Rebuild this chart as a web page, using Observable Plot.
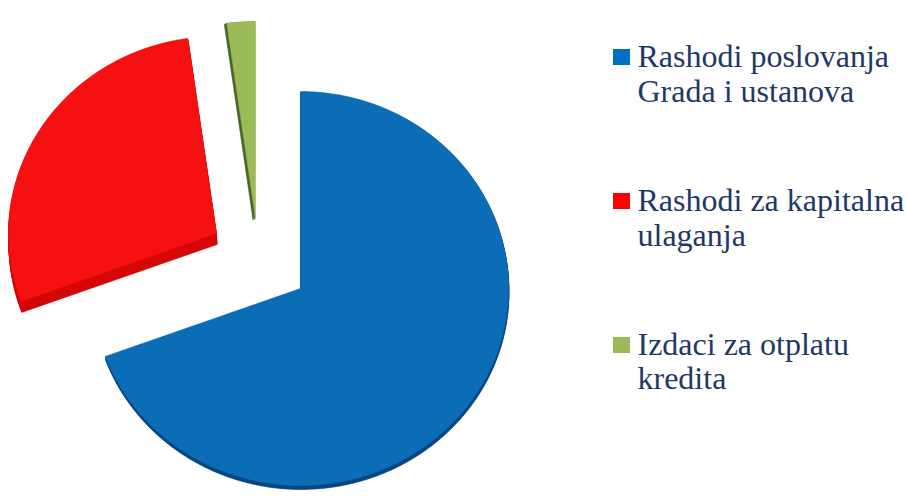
<!DOCTYPE html>
<html><head><meta charset="utf-8">
<script src="https://cdn.jsdelivr.net/npm/d3@7"></script>
<script src="https://cdn.jsdelivr.net/npm/@observablehq/plot@0.6"></script>
<style>
body{margin:0;background:#fff;}
#wrap{position:relative;width:906px;height:496px;overflow:hidden;}
.item{position:absolute;left:613px;width:293px;font-family:'Liberation Serif';font-size:32px;line-height:34.5px;color:#1f3864;}
.sw{position:absolute;left:0;top:10px;width:16.5px;height:16px;}
.lbl{position:absolute;left:24.5px;top:0;white-space:nowrap;}
</style></head><body><div id="wrap"></div>
<script>
// ---- data ----
const categories = ["Rashodi poslovanja Grada i ustanova", "Rashodi za kapitalna ulaganja", "Izdaci za otplatu kredita"];
const legendLines = [["Rashodi poslovanja", "Grada i ustanova"], ["Rashodi za kapitalna", "ulaganja"], ["Izdaci za otplatu", "kredita"]];
const values = [69.4, 28.4, 2.2];
const faceColors = ["#0a6db6", "#f51111", "#9bbb59"];
const sideColors = ["#08467f", "#d40606", "#4a6328"];
const swatchColors = ["#0070c0", "#ff0000", "#9bbb59"];

// ---- layout (pixels) ----
const W = 906, H = 496;
const cx = 300, cy = 288, rx = 208, ry = 197;
const explode = [[0, 0], [-84, -55], [-45, -70]];
const depth = [[0.5, 4], [0.5, 11], [-2.5, 1]];
const legendTop = [39.4, 183, 326.5];

const total = d3.sum(values);
let acc = 0;
const slices = values.map((v, i) => {
  const a0 = acc / total * 2 * Math.PI; acc += v;
  const a1 = acc / total * 2 * Math.PI;
  return {i, a0, a1, name: categories[i]};
});

function polygon(s, ox, oy, key) {
  const du = ox / rx, dv = -oy / ry;
  const pts = [{u: du, v: dv, key}];
  const n = Math.max(2, Math.ceil((s.a1 - s.a0) / (Math.PI / 360)));
  for (let k = 0; k <= n; k++) {
    const a = s.a0 + (s.a1 - s.a0) * k / n;
    pts.push({u: Math.sin(a) + du, v: Math.cos(a) + dv, key});
  }
  pts.push({u: du, v: dv, key});
  return pts;
}

const marks = [];
slices.forEach(s => {
  const [ex, ey] = explode[s.i];
  const [dx, dy] = depth[s.i];
  const steps = Math.max(1, Math.ceil(Math.hypot(dx, dy)));
  let side = [];
  for (let k = 1; k <= steps; k++) side = side.concat(polygon(s, ex + dx * k / steps, ey + dy * k / steps, k));
  marks.push(Plot.line(side, {x: "u", y: "v", z: "key", fill: sideColors[s.i], stroke: sideColors[s.i], strokeWidth: 0.6, curve: "linear"}));
});
slices.forEach(s => {
  const [ex, ey] = explode[s.i];
  marks.push(Plot.line(polygon(s, ex, ey, 0), {x: "u", y: "v", fill: faceColors[s.i], stroke: faceColors[s.i], strokeWidth: 0.5, curve: "linear"}));
});

const chart = Plot.plot({
  width: W, height: H,
  marginTop: 0, marginRight: 0, marginBottom: 0, marginLeft: 0,
  x: {domain: [-cx / rx, (W - cx) / rx], range: [0, W], axis: null},
  y: {domain: [(cy - H) / ry, cy / ry], range: [H, 0], axis: null},
  style: {background: "white"},
  marks
});
const wrap = document.getElementById("wrap");
wrap.appendChild(chart);

legendLines.forEach((lines, i) => {
  const item = document.createElement("div");
  item.className = "item";
  item.style.top = legendTop[i] + "px";
  const sw = document.createElement("div");
  sw.className = "sw";
  sw.style.background = swatchColors[i];
  const lbl = document.createElement("div");
  lbl.className = "lbl";
  lines.forEach(t => {
    const d = document.createElement("div");
    d.textContent = t;
    lbl.appendChild(d);
  });
  item.appendChild(sw); item.appendChild(lbl);
  wrap.appendChild(item);
});
</script></body></html>
